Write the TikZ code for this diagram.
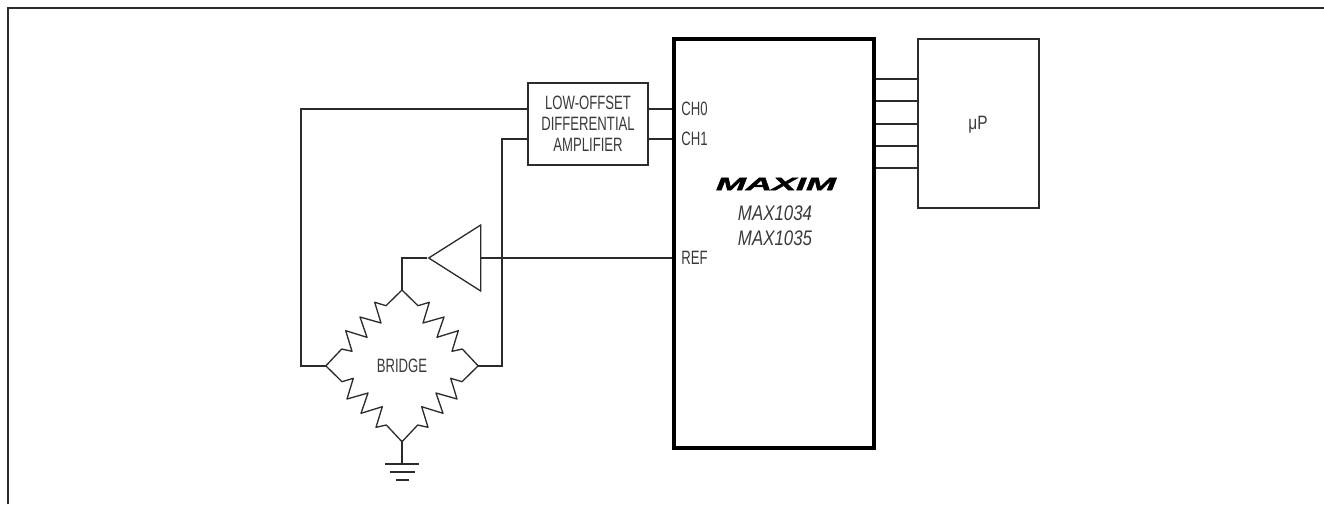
\documentclass[tikz,border=0pt]{standalone}
\usepackage{fontspec}
\setmainfont{Liberation Sans}
\newfontfamily\narrowfont[FakeStretch=0.68]{Liberation Sans}
\newfontfamily\partfont[FakeStretch=0.8]{Liberation Sans}
\newfontfamily\logofont[FakeStretch=2.05,FakeBold=3]{Liberation Sans}
\usetikzlibrary{positioning,calc,shapes.geometric}
\definecolor{ink}{HTML}{2B2B2B}
\definecolor{labelc}{HTML}{3A3A3A}
\tikzset{wire/.style={line width=.75pt,draw=ink},
  framerule/.style={line width=1.15pt,draw=ink},
  lab/.style={font=\narrowfont\fontsize{11}{11.9}\selectfont,text=labelc,inner sep=0pt,align=center},
  part/.style={font=\partfont\itshape\fontsize{12}{14.2}\selectfont,text=labelc,inner sep=0pt,align=center},
  box/.style={wire,rectangle,inner sep=0pt},
  bufamp/.style={wire,isosceles triangle,isosceles triangle stretches,shape border rotate=180,
    minimum width=1.32cm,minimum height=1.04cm,inner sep=0pt}}

\begin{document}
\begin{tikzpicture}[x=.02cm,y=-.02cm]
\useasboundingbox (0,0) rectangle (1324,504);
\draw[framerule] (8,504)--(8,8)--(1324,8);

% blocks
\node[box,line width=1.85pt,draw=black,minimum width=4cm,minimum height=8.18cm] (chip) at (774,243.5) {};
\node[box,minimum width=2.42cm,minimum height=3.38cm] (mup) at (978.5,123.5) {};
\node[font=\partfont\fontsize{11}{12}\selectfont,text=labelc,inner sep=0pt] (mupl) at (978,125) {μP};
\node[box,lab,minimum width=2.4cm,minimum height=1.64cm] (amp) at (588,124) {LOW-OFFSET\\DIFFERENTIAL\\AMPLIFIER};
\node[bufamp,anchor=apex] (buf) at (427,258) {};

% pins
\node[lab,anchor=west] (ch0) at (681,109) {CH0};
\node[lab,anchor=west] (ch1) at (681,139) {CH1};
\node[lab,anchor=west] (ref) at (681,258) {REF};
\node[font=\logofont\bfseries\itshape\fontsize{10}{11}\selectfont,inner sep=0pt] (logo) at (776,184) {MAXIM};
\node[part] (partno) at (775,226) {MAX1034\\MAX1035};

% bridge
\coordinate (btop) at (402,290);
\coordinate (bleft) at (326,366);
\coordinate (bright) at (478,366);
\coordinate (bbot) at (402,441);
\coordinate (lcorner) at (301,366);
\coordinate (rcorner) at (502,366);
\coordinate (gnd) at (402,464);
\node[lab] (bridge) at (402,366) {BRIDGE};
\foreach \sx/\nd in {1/btop,-1/btop,1/bleft,-1/bright}{
 \draw[wire,line join=round,shift={(\nd)},xscale=\sx] (0,0)--(16,15.7)--(27.3,12.3)--(21,33)--(42,27)--(35,47.3)
   --(56.3,40.7)--(50,61.3)--(60.3,59)--(76,75.7);}

% connections
\draw[wire] (amp.east |- ch0)--(chip.west |- ch0);
\draw[wire] (amp.east |- ch1)--(chip.west |- ch1);
\draw[wire] (amp.west |- ch0)-|(lcorner)--(bleft);
\draw[wire] (amp.west |- ch1)-|(rcorner)--(bright);
\draw[wire] (chip.west |- ref)--(buf.lower side);
\draw[wire] (buf.apex)-|(btop);
\draw[wire] (bbot)--(gnd);
\foreach \dy/\w in {0/17,8/12.5,16/6.5}{
 \draw[wire] ($(gnd)+(-\w,\dy)$)--($(gnd)+(\w,\dy)$);}
\foreach \y in {79,101,124,146,168}{
 \draw[wire] (chip.east |- 0,\y)--(mup.west |- 0,\y);}
\end{tikzpicture}
\end{document}
